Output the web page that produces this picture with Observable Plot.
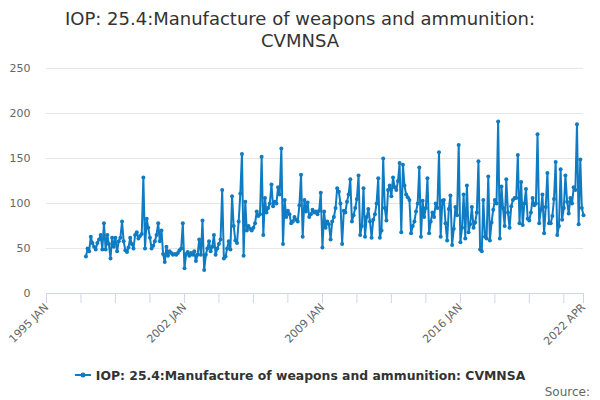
<!DOCTYPE html>
<html>
<head>
<meta charset="utf-8">
<script src="https://cdn.jsdelivr.net/npm/d3@7"></script>
<script src="https://cdn.jsdelivr.net/npm/@observablehq/plot@0.6"></script>
<style>
  html, body { margin: 0; padding: 0; background: #fff; }
  #wrap { position: relative; width: 600px; height: 400px; font-family: "DejaVu Sans", sans-serif; overflow: hidden; }
  #title { box-sizing: border-box; height: 56px; padding-top: 8px; width: 600px; text-align: center; }
  #title div { width: 500px; margin: 0 auto; font-size: 18px; line-height: 22px; color: #333333; }
  #chart svg { display: block; }
  #legend { position: absolute; left: 0; top: 365px; width: 600px; height: 20px; display: flex; justify-content: center; align-items: center; font-size: 12.4px; font-weight: bold; color: #333333; }
  #legend svg { margin-right: 5px; }
  #source { position: absolute; right: 10px; top: 385px; font-size: 12px; color: #666666; }
</style>
</head>
<body>
<div id="wrap">
  <div id="title"><div>IOP: 25.4:Manufacture of weapons and ammunition: CVMNSA</div></div>
  <div id="chart"></div>
  <div id="legend"></div>
  <div id="source">Source:</div>
</div>
<script>
const seriesName = "IOP: 25.4:Manufacture of weapons and ammunition: CVMNSA";
const startYear = 1997;
// monthly values, Jan 1997 .. Apr 2022
const values = [
  41, 50, 47, 63, 56, 52, 49, 56, 60, 65, 49, 78,      // 1997
  49, 65, 55, 39, 62, 52, 62, 47, 58, 62, 80, 58,      // 1998
  48, 46, 51, 62, 55, 50, 65, 68, 61, 64, 66, 129,     // 1999
  50, 83, 73, 62, 50, 53, 58, 65, 78, 58, 70, 44,      // 2000
  35, 52, 42, 47, 45, 43, 44, 43, 45, 48, 50, 78,      // 2001
  28, 44, 46, 42, 45, 43, 47, 36, 43, 60, 43, 81,      // 2002
  26, 43, 50, 58, 47, 52, 65, 43, 50, 55, 60, 115,     // 2003
  39, 41, 50, 58, 49, 108, 75, 59, 56, 80, 111, 155,   // 2004
  42, 102, 70, 75, 72, 70, 73, 78, 91, 86, 88, 152,    // 2005
  65, 106, 90, 95, 100, 121, 97, 102, 100, 118, 110, 161, // 2006
  55, 104, 85, 92, 88, 78, 80, 85, 82, 80, 98, 132,    // 2007
  63, 104, 91, 101, 85, 88, 93, 90, 91, 88, 92, 112,   // 2008
  51, 91, 73, 80, 77, 60, 80, 85, 95, 117, 113, 100,   // 2009
  55, 92, 90, 102, 110, 127, 80, 87, 95, 105, 131, 65, // 2010
  75, 117, 63, 85, 94, 80, 62, 82, 88, 100, 128, 62,   // 2011
  70, 150, 95, 81, 115, 120, 108, 129, 118, 115, 125, 145, // 2012
  68, 143, 120, 110, 107, 104, 67, 75, 80, 91, 100, 140,   // 2013
  63, 103, 85, 95, 128, 67, 80, 90, 85, 100, 95, 157,  // 2014
  63, 103, 104, 78, 59, 94, 109, 54, 72, 96, 87, 165,  // 2015
  57, 73, 110, 61, 120, 68, 77, 96, 73, 79, 90, 147,   // 2016
  49, 47, 104, 63, 61, 130, 59, 79, 93, 104, 100, 191, // 2017
  61, 119, 95, 75, 127, 90, 73, 97, 104, 106, 106, 154,  // 2018
  78, 124, 76, 100, 116, 83, 81, 90, 106, 98, 100, 177,  // 2019
  78, 93, 110, 67, 96, 134, 78, 78, 86, 105, 146, 65,    // 2020
  75, 138, 82, 95, 131, 102, 89, 106, 100, 118, 115, 188, // 2021
  77, 149, 95, 87                                        // 2022
];
const tickDates = ["1995-01","1996-10","1998-07","2000-04","2002-01","2003-10","2005-07","2007-04",
                   "2009-01","2010-10","2012-07","2014-04","2016-01","2017-10","2019-07","2021-04","2022-04"];
const tickLabels = {"1995-01": "1995 JAN", "2002-01": "2002 JAN", "2009-01": "2009 JAN", "2016-01": "2016 JAN", "2022-04": "2022 APR"};
const yTicks = [0, 50, 100, 150, 200, 250];
const color = "#0f7bc2";

const data = values.map((v, i) => ({date: new Date(Date.UTC(startYear, i, 1)), value: v}));
const ticks = tickDates.map(s => new Date(s + "-01T00:00:00Z"));
const keyOf = d => d.toISOString().slice(0, 7);

const chart = Plot.plot({
  width: 600,
  height: 309,
  marginTop: 12,
  marginBottom: 72,
  marginLeft: 46,
  marginRight: 17,
  style: {fontFamily: "DejaVu Sans, sans-serif", fontSize: "11px", background: "#fff", overflow: "visible"},
  x: {type: "utc", domain: [new Date(Date.UTC(1995, 0, 1)), new Date(Date.UTC(2022, 3, 1))]},
  y: {domain: [0, 250]},
  marks: [
    Plot.gridY(yTicks.filter(d => d > 0), {stroke: "#e6e6e6", strokeOpacity: 1}),
    Plot.axisY(yTicks, {tickSize: 0, tickPadding: 16, fill: "#666666", label: null, fontSize: 11}),
    Plot.axisX(ticks, {tickSize: 10, stroke: "#ccd6eb", strokeOpacity: 1, tickPadding: 2, tickRotate: -45,
      textAnchor: "end", tickFormat: d => tickLabels[keyOf(d)] || "", fill: "#666666", label: null, fontSize: 11}),
    Plot.ruleY([0], {stroke: "#ccd6eb"}),
    Plot.line(data, {x: "date", y: "value", stroke: color, strokeWidth: 2}),
    Plot.dot(data, {x: "date", y: "value", r: 2, fill: color})
  ]
});
document.getElementById("chart").appendChild(chart);

const legend = document.getElementById("legend");
legend.innerHTML = `<svg width="16" height="12"><line x1="0" y1="6" x2="16" y2="6" stroke="${color}" stroke-width="2"></line><circle cx="8" cy="6" r="2.5" fill="${color}"></circle></svg><span></span>`;
legend.querySelector("span").textContent = seriesName;
</script>
</body>
</html>
